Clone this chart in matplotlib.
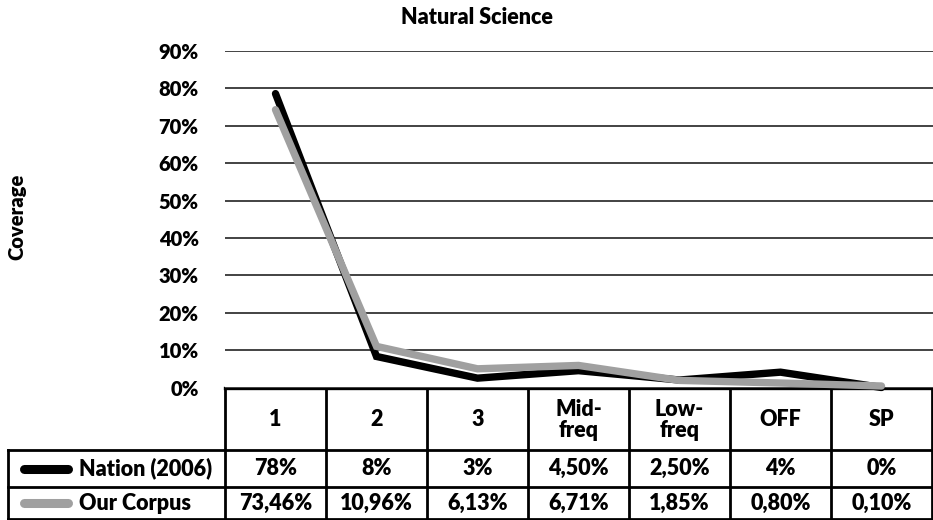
import matplotlib.pyplot as plt
import numpy as np

plt.rcParams["font.family"] = ["Lato", "DejaVu Sans"]
plt.rcParams["font.weight"] = 800

# categories and series (in %)
categories = ["1", "2", "3", "Mid-\nfreq", "Low-\nfreq", "OFF", "SP"]
nation = [78.6, 8.3, 2.5, 4.5, 2.0, 4.1, 0.0]
corpus = [74.3, 11.0, 5.0, 5.9, 1.9, 1.2, 0.4]
series_names = ["Nation (2006)", "Our Corpus"]
series_colors = ["#000000", "#A0A0A0"]

# data table text
nation_txt = ["78%", "8%", "3%", "4,50%", "2,50%", "4%", "0%"]
corpus_txt = ["73,46%", "10,96%", "6,13%", "6,71%", "1,85%", "0,80%", "0,10%"]
yticks = np.arange(0, 91, 10)

W, H = 933, 520
fig = plt.figure(figsize=(W / 100, H / 100), dpi=100)

# layout in pixels
x_left, x_right = 225, 932
y_zero, y_top = 387.5, 51
row_y = [388, 450, 487, 519]
fs_tab = 15.5

ax = fig.add_axes([x_left / W, (H - y_zero) / H, (W - x_left) / W, (y_zero - y_top) / H])
ncat = len(categories)
xs = np.arange(ncat)
colw = (x_right - x_left) / ncat
ax.set_xlim(-0.5, -0.5 + (W - x_left) / colw)
ax.set_ylim(0, 90)
ax.set_yticks(yticks)
ax.set_yticklabels([f"{v}%" for v in yticks], fontsize=14.5, fontweight=800)
ax.tick_params(axis="y", length=0, pad=19)
ax.set_xticks([])
for s in ax.spines.values():
    s.set_visible(False)
ax.grid(axis="y", color="#222222", linewidth=1.2)
ax.set_axisbelow(True)

for vals, col in zip([nation, corpus], series_colors):
    ax.plot(xs, vals, color=col, linewidth=5.3, solid_capstyle="round",
            solid_joinstyle="miter", clip_on=False, zorder=3)

# table drawn in pixel space
tab = fig.add_axes([0, 0, 1, 1], zorder=-1)
tab.set_xlim(0, W)
tab.set_ylim(H, 0)
tab.axis("off")

col_x = [x_left + i * colw for i in range(ncat + 1)]
lw = 2.0
tab.plot([x_left, x_right], [row_y[0], row_y[0]], color="black", lw=2.4)
for ry in row_y[1:]:
    tab.plot([8, x_right], [ry, ry], color="black", lw=lw)
for cx in col_x:
    tab.plot([cx, cx], [row_y[0], row_y[3]], color="black", lw=lw)
tab.plot([8, 8], [row_y[1], row_y[3]], color="black", lw=lw)

for i, lab in enumerate(categories):
    cx = (col_x[i] + col_x[i + 1]) / 2
    tab.text(cx, (row_y[0] + row_y[1]) / 2 + 1, lab, ha="center", va="center",
             fontsize=fs_tab, fontweight=800, linespacing=0.95)

for r, (name, col, txts) in enumerate(zip(series_names, series_colors, [nation_txt, corpus_txt])):
    cy = (row_y[r + 1] + row_y[r + 2]) / 2
    tab.plot([24, 68], [cy, cy], color=col, lw=6.5, solid_capstyle="round")
    tab.text(79, cy, name, ha="left", va="center", fontsize=fs_tab, fontweight=800)
    for i, t in enumerate(txts):
        cx = (col_x[i] + col_x[i + 1]) / 2
        tab.text(cx, cy, t, ha="center", va="center", fontsize=fs_tab, fontweight=800)

fig.text(477 / W, 1 - 18 / H, "Natural Science", ha="center", va="center",
         fontsize=15.5, fontweight=800)
fig.text(17 / W, 1 - 217 / H, "Coverage", ha="center", va="center",
         rotation=90, fontsize=14.5, fontweight=800)

fig.savefig("out.png", dpi=100)
